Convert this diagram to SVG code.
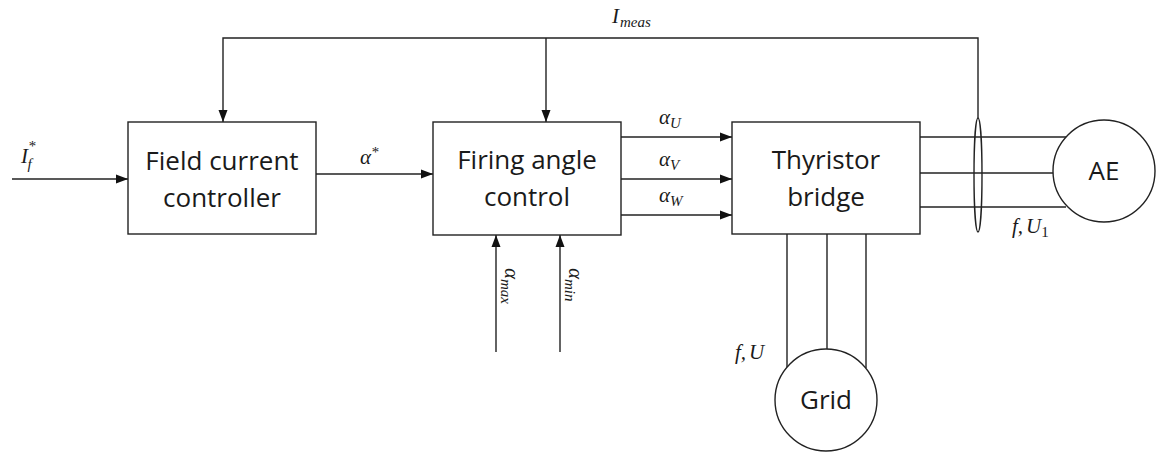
<svg xmlns="http://www.w3.org/2000/svg" width="1159" height="453" viewBox="0 0 1159 453">
<style>
.box{fill:#fff;stroke:#222;stroke-width:1.4}
.ln{fill:none;stroke:#222;stroke-width:1.4}
.lbl{font-family:"Open Sans",sans-serif;font-size:26px;fill:#1a1a1a;text-anchor:middle}
.m{font-family:"Liberation Serif",serif;font-style:italic;font-size:21px;fill:#1a1a1a}
.s{font-size:15px}
.up{font-style:normal}
</style>
<defs>
<marker id="ah" viewBox="0 0 12 10" refX="12" refY="5" markerWidth="12" markerHeight="10" markerUnits="userSpaceOnUse" orient="auto">
<path d="M0,0.5 L12,5 L0,9.5 Z" fill="#111"/>
</marker>
</defs>
<rect width="1159" height="453" fill="#fff"/>
<g id="connectors">
<line class="ln" x1="12" y1="179" x2="128" y2="179" marker-end="url(#ah)"/>
<line class="ln" x1="316" y1="174" x2="433" y2="174" marker-end="url(#ah)"/>
<polyline class="ln" points="978,118 978,38 223,38 223,122" marker-end="url(#ah)"/>
<line class="ln" x1="546" y1="38" x2="546" y2="122" marker-end="url(#ah)"/>
<line class="ln" x1="621" y1="137" x2="732" y2="137" marker-end="url(#ah)"/>
<line class="ln" x1="621" y1="179" x2="732" y2="179" marker-end="url(#ah)"/>
<line class="ln" x1="621" y1="215" x2="732" y2="215" marker-end="url(#ah)"/>
<line class="ln" x1="496" y1="352" x2="496" y2="235" marker-end="url(#ah)"/>
<line class="ln" x1="560" y1="352" x2="560" y2="235" marker-end="url(#ah)"/>
<line class="ln" x1="920" y1="137" x2="1066" y2="137"/>
<line class="ln" x1="920" y1="173" x2="1053" y2="173"/>
<line class="ln" x1="920" y1="207" x2="1066" y2="207"/>
<ellipse class="ln" cx="978" cy="175" rx="4" ry="57"/>
<line class="ln" x1="787" y1="234" x2="787" y2="368"/>
<line class="ln" x1="827" y1="234" x2="827" y2="349"/>
<line class="ln" x1="866" y1="234" x2="866" y2="368"/>
</g>
<g id="labels">
<text class="m" x="21" y="163">I<tspan class="s" dx="0" dy="-12">*</tspan><tspan class="s" dx="-8" dy="18">f</tspan></text>
<text class="m" x="612" y="23">I<tspan class="s" dx="1" dy="4">meas</tspan></text>
<text class="m" x="360" y="164">α<tspan class="s" dy="-7">*</tspan></text>
<text class="m" x="659" y="124">α<tspan class="s" dy="4">U</tspan></text>
<text class="m" x="659" y="166">α<tspan class="s" dy="4">V</tspan></text>
<text class="m" x="659" y="202">α<tspan class="s" dy="4">W</tspan></text>
<text class="m" transform="translate(505,268) rotate(90)">α<tspan class="s" dy="4">max</tspan></text>
<text class="m" transform="translate(569,268) rotate(90)">α<tspan class="s" dy="4">min</tspan></text>
<text class="m" x="1012" y="233">f,<tspan dx="3">U</tspan><tspan class="s up" dy="4">1</tspan></text>
<text class="m" x="735" y="359">f,<tspan dx="3">U</tspan></text>
</g>
<g id="field-current-controller">
<rect class="box" x="128" y="122" width="188" height="112"/>
<text class="lbl" x="222" y="170">Field current</text>
<text class="lbl" x="222" y="207">controller</text>
</g>
<g id="firing-angle-control">
<rect class="box" x="433" y="122" width="188" height="113"/>
<text class="lbl" x="527" y="169">Firing angle</text>
<text class="lbl" x="527" y="206">control</text>
</g>
<g id="thyristor-bridge">
<rect class="box" x="732" y="122" width="188" height="112"/>
<text class="lbl" x="826" y="169">Thyristor</text>
<text class="lbl" x="826" y="206">bridge</text>
</g>
<g id="ae">
<circle class="box" cx="1104" cy="171" r="51"/>
<text class="lbl" x="1104" y="180">AE</text>
</g>
<g id="grid">
<circle class="box" cx="826" cy="400" r="51"/>
<text class="lbl" x="826" y="409">Grid</text>
</g>
</svg>
